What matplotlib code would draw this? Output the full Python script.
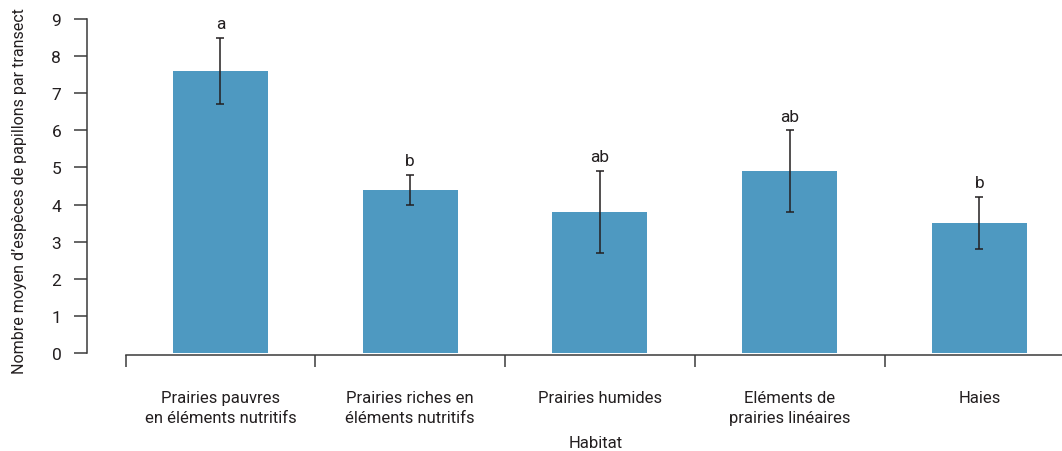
import numpy as np
import matplotlib.pyplot as plt
import matplotlib.transforms as mtransforms

# data
habitats = [
    "Prairies pauvres\nen éléments nutritifs",
    "Prairies riches en\néléments nutritifs",
    "Prairies humides",
    "Eléments de\nprairies linéaires",
    "Haies",
]
mean_species = [7.6, 4.4, 3.8, 4.9, 3.5]
err_species = [0.9, 0.4, 1.1, 1.1, 0.7]
letters = ["a", "b", "ab", "ab", "b"]
y_ticks = [0, 1, 2, 3, 4, 5, 6, 7, 8, 9]

BAR_COLOR = "#4e99c1"
TEXT_COLOR = "#231f20"
AXIS_COLOR = "#3a3a3a"

plt.rcParams["font.family"] = ["Roboto", "DejaVu Sans"]
plt.rcParams["font.size"] = 12

W, H = 1062, 452
fig = plt.figure(figsize=(W / 100, H / 100), dpi=100)
# axes spans from the y spine (x=87px) to the right edge, y=0 at 354px, y=9 at 20px
ax = fig.add_axes([87 / W, (H - 354) / H, (W - 87) / W, (354 - 20) / H])

x = np.arange(len(habitats))
ax.bar(x, mean_species, width=0.5, color=BAR_COLOR, zorder=2)
ax.errorbar(x, mean_species, yerr=err_species, fmt="none", ecolor=TEXT_COLOR,
            elinewidth=1.1, capsize=3, capthick=1.1, zorder=3)

for xi, m, e, lab in zip(x, mean_species, err_species, letters):
    ax.annotate(lab, (xi, m + e), xytext=(0, 7), textcoords="offset points",
                ha="center", va="baseline", color=TEXT_COLOR, fontsize=12.5)

ax.set_ylim(0, 9)
ax.set_xlim(-0.703, 4.435)
ax.set_yticks(y_ticks)

ax.spines["top"].set_visible(False)
ax.spines["right"].set_visible(False)
ax.spines["left"].set_color(AXIS_COLOR)
ax.spines["bottom"].set_color(AXIS_COLOR)
ax.spines["left"].set_linewidth(1.1)
ax.spines["bottom"].set_linewidth(1.1)
ax.spines["bottom"].set_bounds(-0.5, 4.435)
ax.spines["bottom"].set_position(("outward", 1.5))

ax.tick_params(axis="y", length=9.5, width=1.1, color=AXIS_COLOR, pad=9,
               labelcolor=TEXT_COLOR, labelsize=12.5)
# category labels on major ticks (hidden), boundary marks as minor ticks
ax.set_xticks(x)
ax.set_xticklabels(habitats, color=TEXT_COLOR, linespacing=1.4)
ax.set_xticks(np.arange(-0.5, 4.0, 1.0), minor=True)
ax.tick_params(axis="x", which="major", length=0, pad=25)
ax.tick_params(axis="x", which="minor", length=8.5, width=1.1, color=AXIS_COLOR)

trans = mtransforms.blended_transform_factory(ax.transData, fig.transFigure)
ax.text(1.98, 8 / H, "Habitat", transform=trans, ha="center", va="center", color=TEXT_COLOR)
fig.text(20 / W, (H - 191) / H, "Nombre moyen d’espèces de papillons par transect",
         rotation=90, ha="center", va="center", color=TEXT_COLOR, fontsize=11.5)

fig.savefig("out.png", dpi=100)
plt.close(fig)
